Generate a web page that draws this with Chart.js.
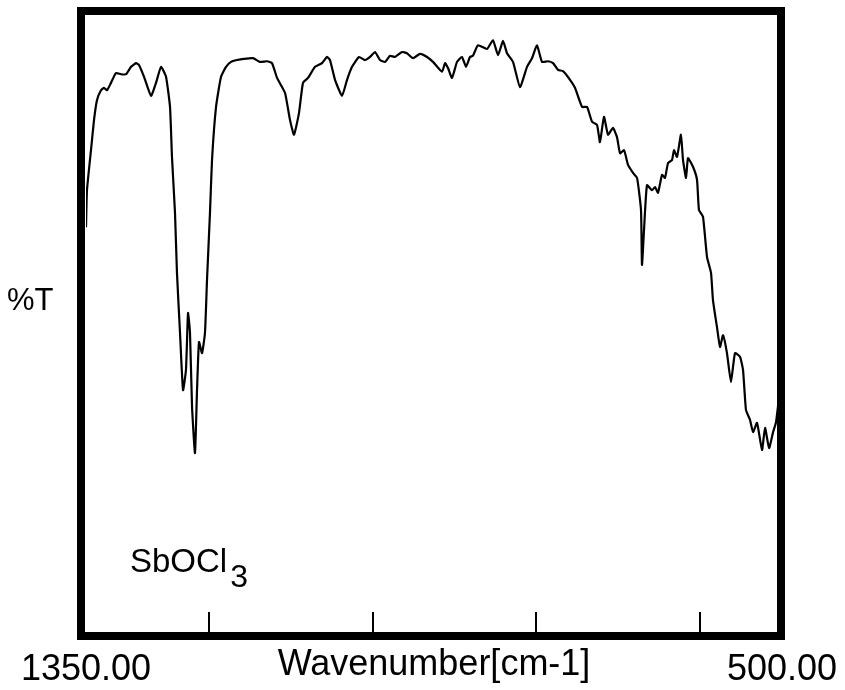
<!DOCTYPE html>
<html>
<head>
<meta charset="utf-8">
<script src="https://cdn.jsdelivr.net/npm/chart.js@4.4.1/dist/chart.umd.min.js"></script>
<style>
  html, body { margin: 0; padding: 0; background: #fff; }
  #wrap { width: 845px; height: 690px; position: relative; }
</style>
</head>
<body>
<div id="wrap"><canvas id="c"></canvas></div>
<script>
// ---- data ----
const wavenumbers = [1350, 1348.8, 1343.9, 1340.2, 1336.6, 1331.7, 1328.0, 1324.4, 1319.5, 1313.4,
  1307.3, 1301.1, 1295.0, 1288.9, 1285.3, 1279.2, 1270.6, 1264.5, 1258.4, 1252.3,
  1247.4, 1245.0, 1241.3, 1238.9, 1235.2, 1231.5, 1227.9, 1225.4, 1223.0, 1220.5,
  1216.9, 1214.4, 1212.0, 1208.3, 1204.7, 1202.2, 1198.6, 1196.1, 1191.2, 1185.1,
  1179.0, 1172.9, 1165.6, 1157.0, 1146.0, 1137.5, 1128.9, 1122.8, 1116.7, 1107.0,
  1100.9, 1096.0, 1089.9, 1085.0, 1078.9, 1070.3, 1061.8, 1055.7, 1052.0, 1045.9,
  1037.3, 1031.2, 1025.1, 1016.6, 1009.3, 1003.1, 997.0, 990.9, 984.8, 978.7,
  972.6, 964.1, 958.0, 950.6, 942.1, 933.5, 926.2, 915.2, 911.5, 907.9,
  903.0, 896.9, 890.8, 885.9, 881.0, 877.4, 871.3, 860.3, 853.0, 846.8,
  840.7, 835.8, 828.5, 820.0, 811.4, 805.3, 799.2, 793.1, 785.8, 779.6,
  773.5, 767.4, 758.9, 752.8, 744.2, 738.1, 732.0, 725.9, 722.3, 717.4,
  712.5, 706.4, 701.5, 697.8, 692.9, 688.0, 681.9, 677.0, 672.2, 671.0,
  668.5, 664.9, 658.8, 655.1, 651.4, 646.5, 642.9, 639.2, 634.3, 631.9,
  628.2, 623.4, 620.9, 617.2, 614.8, 608.7, 603.8, 601.4, 596.5, 591.6,
  586.7, 584.3, 579.4, 575.7, 572.0, 567.2, 562.3, 557.4, 551.3, 547.6,
  544.0, 539.1, 535.4, 530.5, 524.4, 520.7, 515.8, 510.9, 507.3, 503.6, 501.2];
const transmittance = [65.6, 71.6, 78.1, 83.0, 86.2, 87.8, 88.2, 87.8, 89.0, 90.6,
  90.4, 90.4, 91.6, 92.2, 91.9, 90.0, 86.9, 89.0, 91.6, 90.0,
  85.1, 77.0, 67.9, 58.2, 48.5, 39.2, 42.5, 51.7, 48.5, 36.5,
  29.0, 39.2, 47.0, 45.2, 48.5, 57.1, 67.9, 76.5, 85.1, 90.0,
  91.6, 92.4, 92.7, 92.9, 93.0, 92.4, 92.5, 92.2, 89.8, 87.4,
  83.0, 80.6, 84.1, 89.0, 89.8, 91.6, 92.2, 93.2, 92.7, 89.5,
  86.9, 89.5, 91.6, 93.2, 92.7, 93.2, 94.0, 92.7, 92.4, 93.4,
  93.2, 94.0, 93.8, 93.0, 93.7, 93.2, 92.4, 90.8, 92.2, 91.4,
  89.8, 92.4, 93.2, 91.6, 93.2, 93.4, 95.1, 94.5, 95.9, 93.5,
  95.8, 93.8, 92.4, 88.3, 91.6, 93.0, 95.1, 92.4, 92.5, 92.2,
  91.1, 90.9, 89.5, 88.2, 85.1, 85.1, 82.7, 82.2, 79.4, 83.5,
  80.6, 81.7, 80.2, 77.6, 78.1, 75.7, 74.4, 73.6, 68.4, 59.5,
  65.2, 72.4, 71.6, 72.1, 71.2, 74.1, 73.6, 76.0, 76.5, 78.1,
  77.0, 80.6, 76.5, 73.6, 76.8, 75.4, 73.3, 68.4, 67.3, 60.8,
  58.2, 53.8, 49.4, 46.2, 48.1, 45.2, 40.5, 45.2, 44.6, 42.5,
  36.0, 34.4, 32.4, 33.9, 29.5, 33.1, 29.8, 32.4, 34.0, 38.1, 40.8];
const xRange = [500, 1350];
const labelTicks = [1350, 500];
const innerTicks = [1200, 1000, 800, 600];
const xTitle = "Wavenumber[cm-1]";
const yTitle = "%T";
const sampleName = "SbOCl";
const sampleSub = "3";

const FONT = '"Liberation Sans", Arial, Helvetica, sans-serif';

const points = wavenumbers.map((w, i) => ({ x: w, y: transmittance[i] }));

const decor = {
  id: 'decor',
  afterDatasetsDraw(chart) {
    const ctx = chart.ctx;
    const a = chart.chartArea;
    const xs = chart.scales.x;
    ctx.save();
    // inner tick marks
    ctx.strokeStyle = '#000';
    ctx.lineWidth = 2;
    innerTicks.forEach(v => {
      const px = Math.round(xs.getPixelForValue(v));
      ctx.beginPath();
      ctx.moveTo(px, a.bottom);
      ctx.lineTo(px, a.bottom - 20);
      ctx.stroke();
    });
    // thick frame
    ctx.lineWidth = 8;
    ctx.strokeRect(a.left - 5, a.top - 4, (a.right - 1) - (a.left - 5), (a.bottom + 4) - (a.top - 4));
    // texts
    ctx.fillStyle = '#000';
    ctx.textBaseline = 'alphabetic';
    ctx.textAlign = 'left';
    ctx.font = '31px ' + FONT;
    ctx.fillText(yTitle, 7, 310);
    ctx.font = '33px ' + FONT;
    ctx.fillText(sampleName, 130, 572);
    const w = ctx.measureText(sampleName).width;
    ctx.font = '32px ' + FONT;
    ctx.fillText(sampleSub, 130 + w + 3, 587);
    ctx.restore();
  }
};

new Chart(document.getElementById('c'), {
  type: 'line',
  data: {
    datasets: [{
      data: points,
      borderColor: '#000',
      borderWidth: 2.2,
      pointRadius: 0,
      tension: 0.15,
      fill: false
    }]
  },
  options: {
    responsive: true,
    maintainAspectRatio: false,
    animation: false,
    events: [],
    layout: { padding: { left: 86, right: 63, top: 15, bottom: 0 } },
    plugins: { legend: { display: false }, tooltip: { enabled: false } },
    scales: {
      x: {
        type: 'linear',
        reverse: true,
        min: xRange[0],
        max: xRange[1],
        grid: { display: false, drawTicks: false },
        border: { display: false },
        afterBuildTicks(scale) { scale.ticks = labelTicks.map(v => ({ value: v })); },
        afterFit(scale) {
          scale.height = 58;
          scale.paddingLeft = 0;
          scale.paddingRight = 0;
        },
        ticks: {
          autoSkip: false,
          maxRotation: 0,
          padding: 16,
          color: '#000',
          font: { family: FONT, size: 36 },
          callback: v => Number(v).toFixed(2)
        },
        title: {
          display: true,
          text: xTitle,
          color: '#000',
          font: { family: FONT, size: 36 },
          padding: { top: 0, bottom: 3 }
        }
      },
      y: {
        display: false,
        min: 0,
        max: 100
      }
    }
  },
  plugins: [decor]
});
</script>
</body>
</html>
